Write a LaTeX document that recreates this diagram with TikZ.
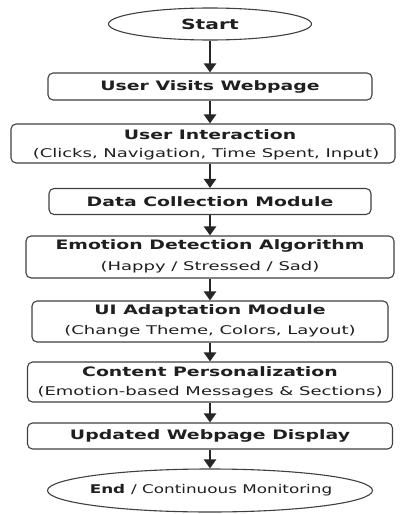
\documentclass[tikz,border=0pt]{standalone}
\usepackage{fontspec}
\setmainfont{DejaVu Sans}
% widened faces for the box labels
\newfontfamily\ttlface[FakeStretch=1.45]{DejaVu Sans Bold}
\newfontfamily\subface[FakeStretch=1.5]{DejaVu Sans}
\newfontfamily\endbold[FakeStretch=1.4]{DejaVu Sans Bold}
\newfontfamily\endreg[FakeStretch=1.4]{DejaVu Sans}
\usetikzlibrary{arrows.meta,shapes.geometric}
\begin{document}
\begin{tikzpicture}[x=1pt,y=-1pt,
  every node/.style={text=black!88, inner sep=0pt},
  stepbox/.style={draw=black!75, line width=1.1pt, rounded corners=5pt, fill=white, align=center},
  terminal/.style={ellipse, draw=black!75, line width=1.1pt, fill=white, align=center},
  flow/.style={line width=2.6pt, draw=black!85, -{Triangle[width=12pt,length=9pt]}},
  ttl/.style={font=\ttlface\fontsize{13}{15}\selectfont},
  sub/.style={font=\subface\fontsize{12}{14}\selectfont}]
\useasboundingbox (0,0) rectangle (399,514);
\node[terminal, minimum width=203pt, minimum height=32pt, font=\ttlface\fontsize{14}{16}\selectfont] (start) at (210,24) {Start};
\node[stepbox, minimum width=324pt, minimum height=27pt, ttl] (visits) at (210,86.5) {User Visits Webpage};
\node[stepbox, minimum width=384pt, minimum height=39pt] (interact) at (203,143.5) {};
\node[ttl] (interactT) at (210,135) {User Interaction};
\node[sub] (interactS) at (206,154) {(Clicks, Navigation, Time Spent, Input)};
\node[stepbox, minimum width=322pt, minimum height=26pt, ttl] (collect) at (210,201.5) {Data Collection Module};
\node[stepbox, minimum width=368pt, minimum height=42pt] (emotion) at (210,257) {};
\node[ttl] (emotionT) at (210,246) {Emotion Detection Algorithm};
\node[sub] (emotionS) at (210,267) {(Happy / Stressed / Sad)};
\node[stepbox, minimum width=356pt, minimum height=41pt] (adapt) at (210,321.5) {};
\node[ttl] (adaptT) at (210,311) {UI Adaptation Module};
\node[sub] (adaptS) at (210,331) {(Change Theme, Colors, Layout)};
\node[stepbox, minimum width=365pt, minimum height=40pt] (content) at (210,382) {};
\node[ttl] (contentT) at (210,372) {Content Personalization};
\node[sub] (contentS) at (210,392) {(Emotion-based Messages \& Sections)};
\node[stepbox, minimum width=365pt, minimum height=26pt, ttl] (updated) at (210,436) {Updated Webpage Display};
\node[terminal, minimum width=325pt, minimum height=43pt] (end) at (210,490.5) {};
\node (endT) at (211,490) {\fontsize{12}{14}\endbold End \endreg/ Continuous Monitoring};
\draw[flow] (start.south) -- (visits.north);
\draw[flow] (visits.south) -- (visits.south |- interact.north);
\draw[flow] (collect.north |- interact.south) -- (collect.north);
\draw[flow] (collect.south) -- (emotion.north);
\draw[flow] (emotion.south) -- (adapt.north);
\draw[flow] (adapt.south) -- (content.north);
\draw[flow] (content.south) -- (updated.north);
\draw[flow] (updated.south) -- (end.north);
\end{tikzpicture}
\end{document}
